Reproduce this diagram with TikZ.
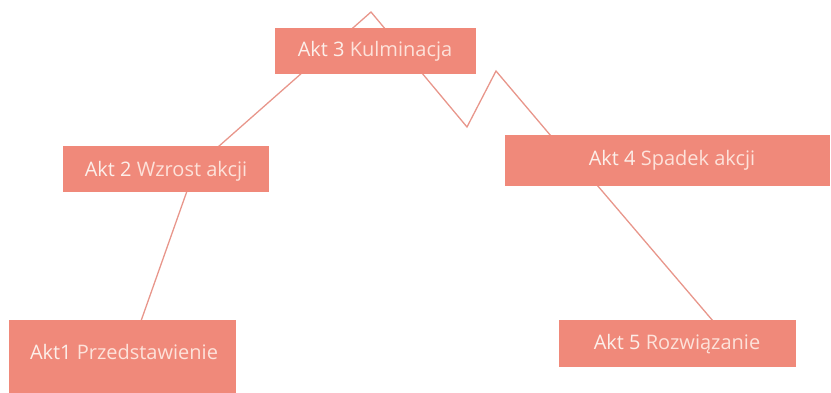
\documentclass[tikz,border=0pt]{standalone}
\usepackage{fontspec}
\setmainfont{Open Sans}
\definecolor{boxc}{HTML}{F0897A}
\definecolor{linec}{HTML}{E8968B}
\definecolor{txta}{HTML}{FCEFEA}
\definecolor{txtb}{HTML}{FDE2DA}
\tikzset{
  actbox/.style={fill=boxc, draw=none, inner sep=0pt, anchor=north west},
  acttext/.style={font=\fontsize{20}{22}\selectfont, text=txtb, inner sep=0pt},
  plot line/.style={draw=linec, line width=1.3pt, line join=miter}
}
\begin{document}
\begin{tikzpicture}[x=1pt,y=-1pt]
\useasboundingbox (0,0) rectangle (831,393);
% line coordinates
\coordinate (p1) at (141,321);
\coordinate (p2) at (187,191);
\coordinate (p3) at (218,147);
\coordinate (peak) at (371,12);
\coordinate (v1) at (467,127);
\coordinate (pk2) at (496,71);
\coordinate (p4) at (551,136);
\coordinate (p5) at (597,185);
\coordinate (p6) at (713,321);
\draw[plot line] (p1) -- (p2);
\draw[plot line] (p3) -- (peak) -- (v1) -- (pk2) -- (p4);
\draw[plot line] (p5) -- (p6);
% boxes
\node[actbox, minimum width=227pt, minimum height=73pt] (b1) at (9,320) {};
\node[actbox, minimum width=206pt, minimum height=46pt] (b2) at (63,146) {};
\node[actbox, minimum width=201pt, minimum height=46pt] (b3) at (275,28) {};
\node[actbox, minimum width=325pt, minimum height=51pt] (b4) at (505,135) {};
\node[actbox, minimum width=237pt, minimum height=47pt] (b5) at (559,320) {};
% texts
\node[acttext] (t1) at (124,352) {\textcolor{txta}{Akt1} Przedstawienie};
\node[acttext] (t2) at (166,171) {\textcolor{txta}{Akt 2} Wzrost akcji};
\node[acttext] (t3) at (375,51) {\textcolor{txta}{Akt 3} Kulminacja};
\node[acttext] (t4) at (672,160) {\textcolor{txta}{Akt 4} Spadek akcji};
\node[acttext] (t5) at (677,344) {\textcolor{txta}{Akt 5} Rozwiązanie};
\end{tikzpicture}
\end{document}
